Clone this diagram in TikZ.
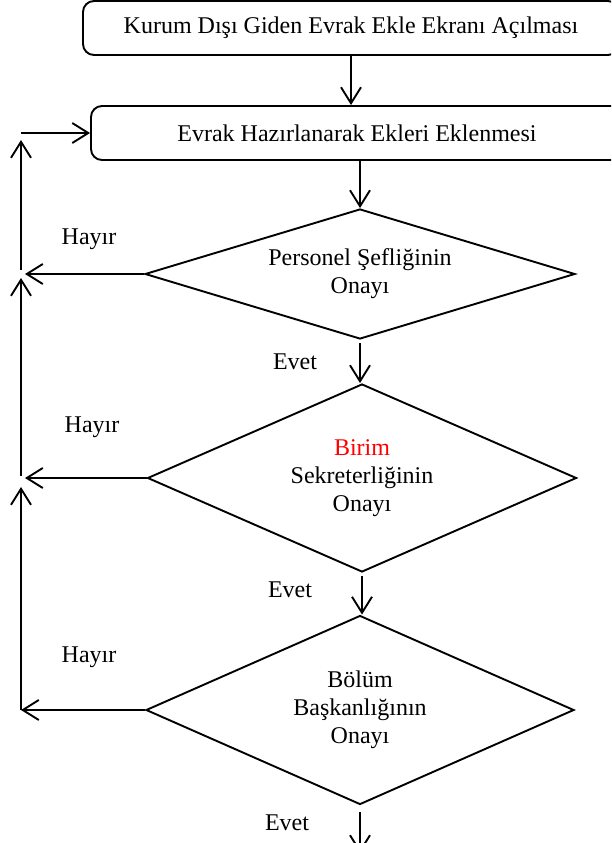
\documentclass[tikz,border=0pt]{standalone}
\usepackage{fontspec}
\setmainfont{Liberation Serif}
\usetikzlibrary{arrows.meta,shapes.geometric}
\tikzset{
	box/.style={draw, rounded corners=11pt, minimum height=54pt, inner sep=0pt},
	karar/.style={draw, diamond, inner sep=0pt, align=center},
	yazi/.style={font=\fontsize{24}{28}\selectfont},
	ok/.style={-{Straight Barb[length=16pt,width=20pt]}},
}
\begin{document}
\begin{tikzpicture}[x=1pt,y=-1pt,line width=1.9pt,yazi]
\useasboundingbox (0,0) rectangle (611,843);
\clip (0,0) rectangle (611,843);
\node[box, minimum width=536pt] (b1) at (351,28) {Kurum Dışı Giden Evrak Ekle Ekranı Açılması};
\node[box, minimum width=532pt] (b2) at (357,133) {Evrak Hazırlanarak Ekleri Eklenmesi};
\node[karar, aspect=3.3, minimum width=430pt, minimum height=130pt] (d1) at (360,274) {Personel Şefliğinin\\Onayı};
\node[karar, aspect=2.3, minimum width=429pt, minimum height=188pt] (d2) at (362,478) {\textcolor{red}{Birim}\\Sekreterliğinin\\Onayı};
\node[karar, aspect=2.3, minimum width=428pt, minimum height=189pt] (d3) at (360,710) {Bölüm\\Başkanlığının\\Onayı};
\coordinate (k0) at (21,133);
\coordinate (k1) at (21,274);
\coordinate (k2) at (21,478);
\coordinate (k3) at (21,710);
\coordinate (bitis) at (360,853);
\draw[ok] (b1.south) -- (b1.south |- b2.north);
\draw[ok] (d1.north |- b2.south) -- (d1.north);
\draw[ok, shorten <=3pt] (d1.south) -- (d1.south |- d2.north);
\draw[ok, shorten <=3pt] (d2.south) -- (d2.south |- d3.north);
\draw[ok, shorten <=7pt] (d3.south) -- (bitis);
\draw[ok, shorten >=4pt] (d1.west) -- (k1);
\draw[ok, shorten <=4pt, shorten >=7pt] (k1) -- (k0);
\draw[ok] (k0) -- (b2.west);
\draw[ok, shorten >=4pt] (d2.west) -- (k2);
\draw[ok, shorten <=2pt, shorten >=4pt] (k2) -- (k1);
\draw[ok] (d3.west) -- (k3);
\draw[ok, shorten >=9pt] (k3) -- (k2);
\node (h1) at (89,239) {Hayır};
\node (h2) at (92,427) {Hayır};
\node (h3) at (89,657) {Hayır};
\node (e1) at (295,362) {Evet};
\node (e2) at (290,590) {Evet};
\node (e3) at (287,823) {Evet};
\end{tikzpicture}
\end{document}
